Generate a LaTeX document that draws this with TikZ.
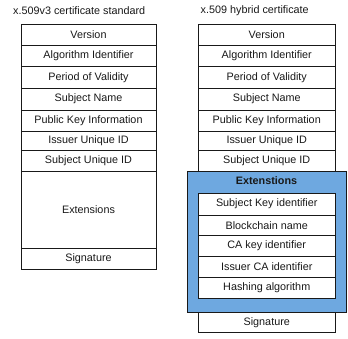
\documentclass[tikz,border=0pt]{standalone}
\usepackage{fontspec}
\setmainfont{Liberation Sans}
\definecolor{extblue}{RGB}{110,168,224}
\definecolor{ink}{RGB}{25,25,25}
\begin{document}
\begin{tikzpicture}[x=1pt,y=-1pt,
  cell/.style={draw=ink, line width=0.8pt, fill=white, inner sep=0pt, text=ink,
    font=\fontsize{10.8}{12}\selectfont},
  lcell/.style={cell, minimum width=135pt},
  rcell/.style={cell, minimum width=137pt},
  title/.style={anchor=west, inner sep=0pt, text=ink, font=\fontsize{10.8}{12}\selectfont}]
\useasboundingbox[fill=white] (0,0) rectangle (348,338);
% titles
\node[title] (tl) at (13,11) {x.509v3 certificate standard};
\node[title] (tr) at (200.5,11) {x.509 hybrid certificate};
% left column
\node[lcell, minimum height=21pt]   (l1) at (88.5,34.5)  {Version};
\node[lcell, minimum height=21.5pt] (l2) at (88.5,55.75) {Algorithm Identifier};
\node[lcell, minimum height=21.5pt] (l3) at (88.5,77.25) {Period of Validity};
\node[lcell, minimum height=22pt]   (l4) at (88.5,99)    {Subject Name};
\node[lcell, minimum height=21pt]   (l5) at (88.5,120.5) {Public Key Information};
\node[lcell, minimum height=19pt]   (l6) at (88.5,140.5) {Issuer Unique ID};
\node[lcell, minimum height=21pt]   (l7) at (88.5,160.5) {Subject Unique ID};
\node[lcell, minimum height=77pt]   (l8) at (88.5,209.5) {Extensions};
\node[lcell, minimum height=21.5pt] (l9) at (88.5,258.75) {Signature};
% right column
\node[rcell, minimum height=21pt]   (r1) at (266.75,34.5)  {Version};
\node[rcell, minimum height=21.5pt] (r2) at (266.75,55.75) {Algorithm Identifier};
\node[rcell, minimum height=21.5pt] (r3) at (266.75,77.25) {Period of Validity};
\node[rcell, minimum height=22pt]   (r4) at (266.75,99)    {Subject Name};
\node[rcell, minimum height=21pt]   (r5) at (266.75,120.5) {Public Key Information};
\node[rcell, minimum height=19pt]   (r6) at (266.75,140.5) {Issuer Unique ID};
\node[rcell, minimum height=21pt]   (r7) at (266.75,160.5) {Subject Unique ID};
% extensions block
\node[draw=ink, line width=0.8pt, fill=extblue, inner sep=0pt,
  minimum width=159pt, minimum height=141pt] (ext) at (266.5,241.5) {};
\node[text=ink, font=\fontsize{10.8}{12}\selectfont\bfseries, inner sep=0pt] (extt) at (266.5,181) {Extenstions};
\node[rcell, minimum height=21.7pt] (e1) at (266.75,204.15) {Subject Key identifier};
\node[rcell, minimum height=20.5pt] (e2) at (266.75,225.25) {Blockchain name};
\node[rcell, minimum height=21.2pt] (e3) at (266.75,246.1)  {CA key identifier};
\node[rcell, minimum height=20.6pt] (e4) at (266.75,267)    {Issuer CA identifier};
\node[rcell, minimum height=21pt]   (e5) at (266.75,287.8)  {Hashing algorithm};
\node[rcell, minimum height=20.7pt] (r9) at (266.75,322.35) {Signature};
\end{tikzpicture}
\end{document}
